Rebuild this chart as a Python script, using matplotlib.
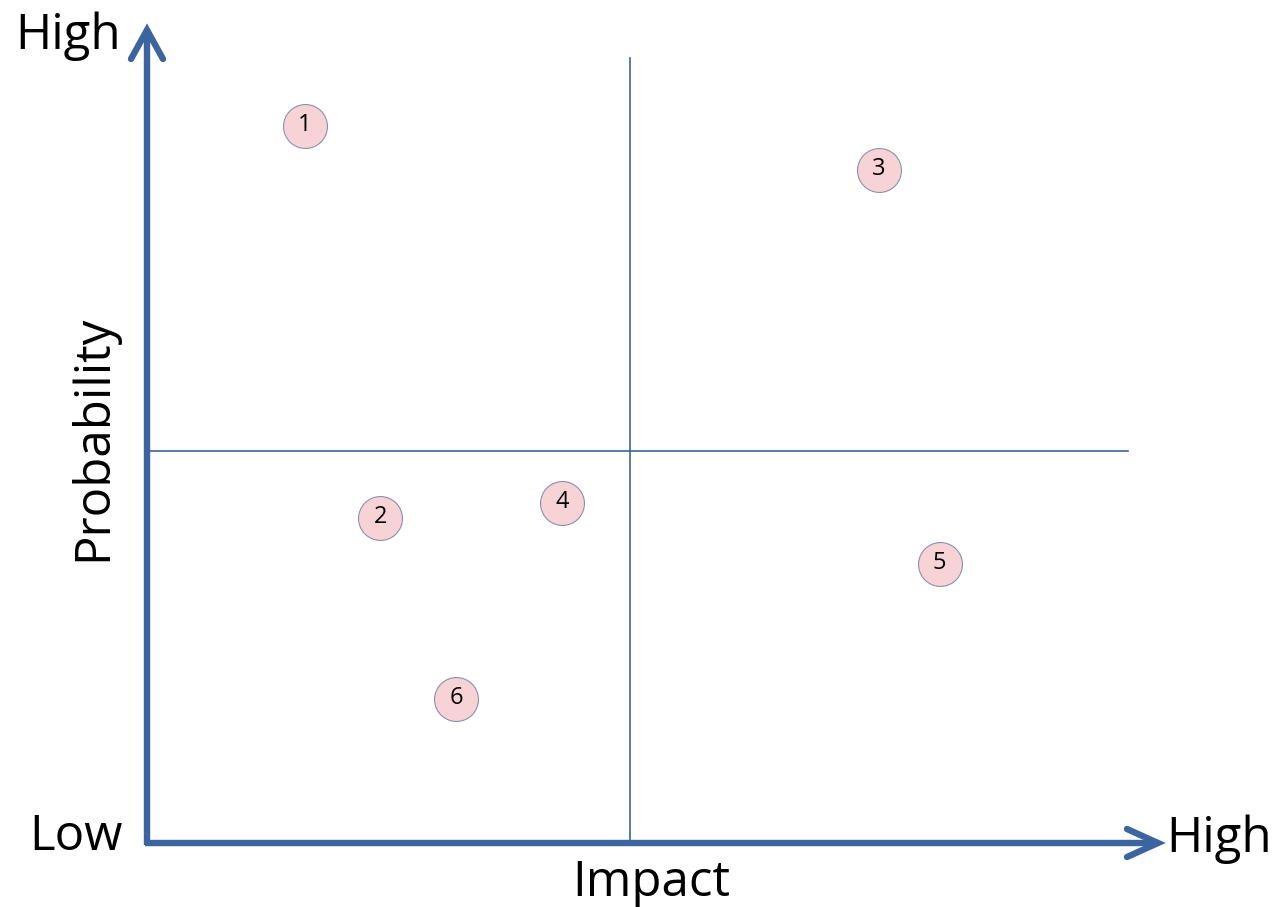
import matplotlib
matplotlib.use("Agg")
import matplotlib.pyplot as plt

# ---- data ----
risk_ids = ["1", "2", "3", "4", "5", "6"]
impact = [1.61, 2.38, 7.46, 4.23, 8.08, 3.15]
probability = [9.13, 4.14, 8.57, 4.33, 3.55, 1.83]
impact_threshold = 4.92
probability_threshold = 5.0

W, H = 1279, 907
BLUE = "#3B64A0"
FONT = "Open Sans"

fig = plt.figure(figsize=(W / 100, H / 100), dpi=100)
# axes box: x px 147..1128, y px 58..843
x0, x1, y0, y1 = 147, 1128, 58, 843
ax = fig.add_axes([x0 / W, 1 - y1 / H, (x1 - x0) / W, (y1 - y0) / H])
ax.set_xlim(0, 10)
ax.set_ylim(0, 10)
ax.axis("off")

pxx = 10 / (x1 - x0)   # data units per px, x
pxy = 10 / (y1 - y0)   # data units per px, y

# quadrant lines
ax.plot([impact_threshold, impact_threshold], [0, 10], color=BLUE, lw=1.2, clip_on=False, zorder=1)
ax.plot([0, 10], [probability_threshold, probability_threshold], color=BLUE, lw=1.2, clip_on=False, zorder=1)

# axis arrows
lw_arrow = 4.6
ytip = (843 - 30) * pxy
xtip = (1158 - 147) * pxx
ax.plot([0, 0], [-2 * pxy, ytip], color=BLUE, lw=lw_arrow, solid_capstyle="butt", clip_on=False, zorder=2)
ax.plot([-16 * pxx, 0, 16 * pxx], [ytip - 29 * pxy, ytip, ytip - 29 * pxy], color=BLUE, lw=lw_arrow,
        solid_capstyle="round", solid_joinstyle="miter", clip_on=False, zorder=2)
ax.plot([-2 * pxx, xtip], [0, 0], color=BLUE, lw=lw_arrow, solid_capstyle="butt", clip_on=False, zorder=2)
ax.plot([xtip - 31 * pxx, xtip, xtip - 31 * pxx], [14 * pxy, 0, -14 * pxy], color=BLUE, lw=lw_arrow,
        solid_capstyle="round", solid_joinstyle="miter", clip_on=False, zorder=2)

# risk points
ax.scatter(impact, probability, s=1000, facecolor="#F8D3D5", edgecolor="#8A90B4", linewidth=0.8, zorder=3, clip_on=False)
for rid, xi, yi in zip(risk_ids, impact, probability):
    ax.text(xi, yi + 1 * pxy, rid, ha="center", va="center", fontsize=17, family=FONT, color="black", zorder=4)

# labels
def ftext(x, y, s, **kw):
    fig.text(x / W, 1 - y / H, s, family=FONT, color="black", **kw)

FS = 35.5
ftext(68, 36, "High", ha="center", va="center", fontsize=FS)
ftext(76, 837, "Low", ha="center", va="center", fontsize=FS)
ftext(1219, 839, "High", ha="center", va="center", fontsize=FS)
ftext(651, 883, "Impact", ha="center", va="center", fontsize=FS)
ftext(93, 438, "Probability", ha="center", va="center", fontsize=FS, rotation=90)

fig.savefig("out.png", dpi=100)
